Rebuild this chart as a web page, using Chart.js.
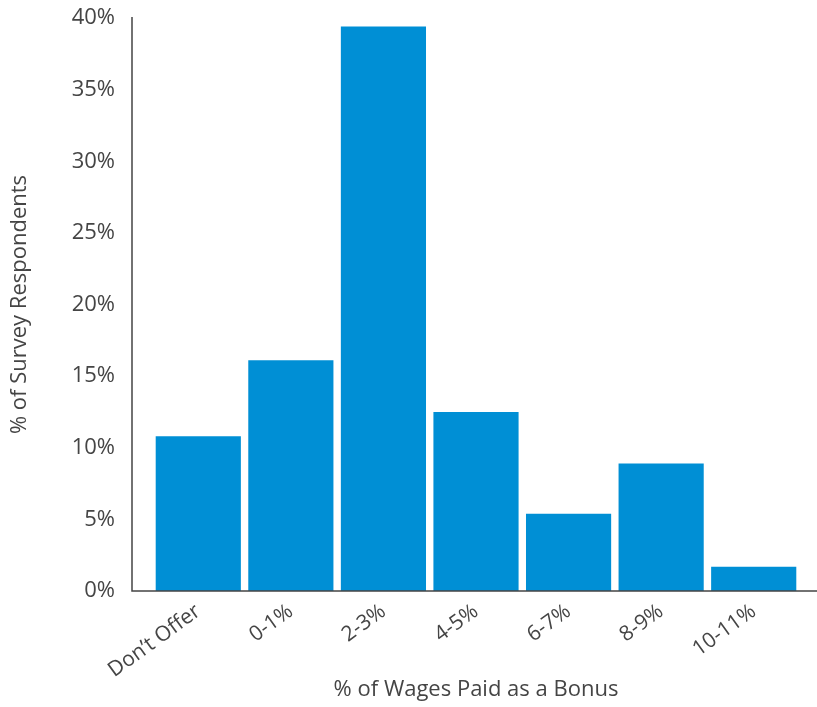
<!DOCTYPE html>
<html>
<head>
<meta charset="utf-8">
<script src="https://cdn.jsdelivr.net/npm/chart.js@4.4.1/dist/chart.umd.min.js"></script>
<style>
  html, body { margin: 0; padding: 0; background: #fff; }
  #wrap { width: 817px; height: 707px; }
</style>
</head>
<body>
<div id="wrap"><canvas id="bonusChart"></canvas></div>
<script>
// categorias y porcentajes de respondientes
const categorias = ["Don\u2019t Offer", "0-1%", "2-3%", "4-5%", "6-7%", "8-9%", "10-11%"];
const respondientes = [10.8, 16.1, 39.4, 12.5, 5.4, 8.9, 1.7];
const yTicks = [0, 5, 10, 15, 20, 25, 30, 35, 40];

const AZUL = '#008fd5';
const TEXTO = '#454545';
const FUENTE = "'Open Sans', sans-serif";

// ejes dibujados a mano: el eje y queda separado de la primera barra
const ejesPlugin = {
    id: 'ejes',
    afterDatasetsDraw(chart) {
        const { ctx, chartArea } = chart;
        const x0 = chartArea.left - 20;
        const yBase = chartArea.bottom;
        ctx.save();
        ctx.strokeStyle = '#444';
        ctx.lineWidth = 1.5;
        ctx.beginPath();
        ctx.moveTo(x0, chartArea.top - 1);
        ctx.lineTo(x0, yBase);
        ctx.lineTo(chart.width, yBase);
        ctx.stroke();
        ctx.restore();
    }
};

new Chart(document.getElementById('bonusChart'), {
    type: 'bar',
    data: {
        labels: categorias,
        datasets: [{
            data: respondientes,
            backgroundColor: AZUL,
            borderWidth: 0,
            barPercentage: 0.92,
            categoryPercentage: 1.0
        }]
    },
    options: {
        responsive: true,
        maintainAspectRatio: false,
        animation: false,
        layout: { padding: { top: 18, right: 17, left: 0, bottom: 0 } },
        plugins: {
            legend: { display: false },
            tooltip: { enabled: false }
        },
        scales: {
            x: {
                grid: { display: false, drawTicks: false },
                border: { display: false },
                ticks: {
                    color: TEXTO,
                    font: { family: FUENTE, size: 21 },
                    minRotation: 36,
                    maxRotation: 36,
                    padding: 8
                },
                title: {
                    display: true,
                    text: '% of Wages Paid as a Bonus',
                    color: TEXTO,
                    font: { family: FUENTE, size: 22 },
                    padding: { top: 0, bottom: 4 }
                },
                afterFit(scale) { scale.height = 116; }
            },
            y: {
                min: 0,
                max: 40,
                afterBuildTicks(scale) {
                    scale.ticks = yTicks.map(v => ({ value: v }));
                },
                grid: { display: false, drawTicks: false },
                border: { display: false },
                ticks: {
                    color: TEXTO,
                    font: { family: FUENTE, size: 22 },
                    padding: 37,
                    callback: v => v + '%'
                },
                title: {
                    display: true,
                    text: '% of Survey Respondents',
                    color: TEXTO,
                    font: { family: FUENTE, size: 22 },
                    padding: { top: 7, bottom: 0 }
                },
                afterFit(scale) {
                    scale.width = 152;
                    // el padding de los ticks no debe empujar el area hacia abajo
                    scale.paddingTop = 0;
                    scale.paddingBottom = 0;
                }
            }
        }
    },
    plugins: [ejesPlugin]
});
</script>
</body>
</html>
